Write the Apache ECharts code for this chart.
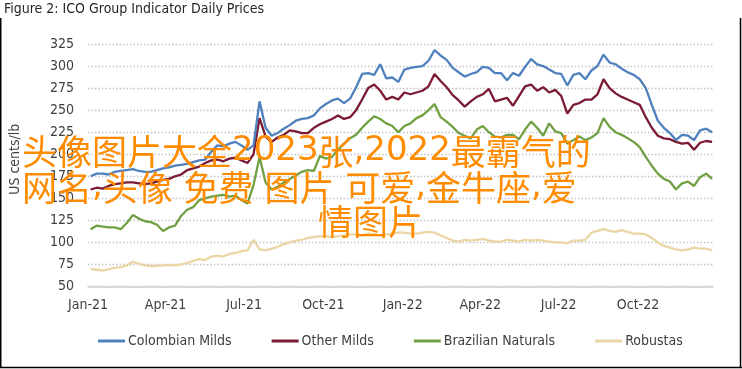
<!DOCTYPE html>
<html>
<head>
<meta charset="utf-8">
<script src="https://cdn.jsdelivr.net/npm/echarts@6/dist/echarts.min.js"></script>
<style>
html,body{margin:0;padding:0;background:#fff;}
#chart{width:742px;height:369px;}
</style>
</head>
<body>
<div id="chart"></div>
<script>
// ---- data (weekly readings, Mondays from 2021-01-04) ----
const firstWeek = '2021-01-04';
const colombianMilds = [
175,178,178,177,180,181,182,183,181,180,180,182,184,185,187,188,189,191,193,194,203,210,209,212,214,210,205,
210,260,230,221,224,229,233,238,240,241,244,252,257,261,263,258,263,276,291,292,290,302,286,287,282,
296,298,299,300,306,318,312,307,298,293,288,291,293,299,298,292,292,284,292,289,299,308,302,300,296,292,
291,278,290,292,285,295,300,313,304,302,297,293,290,285,275,256,238,230,224,216,222,221,216,227,229,225];
const otherMilds = [
160,162,161,164,166,167,168,168,167,166,167,169,171,172,175,177,182,184,186,190,193,194,192,195,196,193,190,
200,241,220,214,219,222,227,226,224,224,230,234,237,240,244,240,242,250,262,275,279,272,262,265,262,
270,268,270,272,277,291,283,276,267,261,254,260,265,268,274,260,262,264,255,266,277,279,272,276,270,273,266,
246,256,258,262,262,268,285,275,269,265,262,259,256,242,230,221,218,217,214,212,213,205,213,215,214];
const brazilianNaturals = [
115,119,118,117,117,115,122,131,127,124,123,120,113,117,119,130,137,140,148,150,152,153,154,152,153,148,144,
165,197,168,160,163,168,172,176,180,182,181,198,195,197,205,212,218,222,230,237,243,240,235,232,225,
232,235,241,244,250,257,242,237,231,224,221,218,228,232,225,220,219,222,222,217,228,237,230,221,235,226,224,
212,216,220,216,219,224,241,231,225,222,218,214,208,197,187,178,172,169,160,167,169,164,174,178,172];
const robustas = [
70,69,68,69.5,71,72,74,78,76,74,73,73.5,74,74.5,74,75,76.5,79,81,80,84,85,84,87,88,90,91,
103,92,91,93,95,98,100,102,103,105,106,107,107,106,107,108,109,109,108,110,109,108,109,110,111,
111,110,110,111,112,111,108,105,102,101,103,102,103,104,102,101,101,103,102,101,103,102,103,102,101,100,100,
99,102,102,103,111,113,115,113,112,114,112,110,110,109,105,100,96,94,92,91,92,94,93,93,91];
const seriesNames = ['Colombian Milds','Other Milds','Brazilian Naturals','Robustas'];
const tickDates = ['2021-01-01','2021-04-01','2021-07-01','2021-10-01','2022-01-01','2022-04-01','2022-07-01','2022-10-01'];
const tickLabels = ['Jan-21','Apr-21','Jul-21','Oct-21','Jan-22','Apr-22','Jul-22','Oct-22'];
const xMin = '2021-01-01', xMax = '2022-12-27';
const yTicks = {min:50, max:325, step:25};
const titleText = 'Figure 2: ICO Group Indicator Daily Prices';
const yName = 'US cents/lb';
const overlayLines = ['头像图片大全2023张,2022最霸气的', '网名,头像 免费 图片 可爱,金牛座,爱', '情图片'];

// ---- helpers ----
function toTs(s){ const p=s.split('-').map(Number); return Date.UTC(p[0],p[1]-1,p[2]); }
const DAY = 86400000;
const startTs = toTs(firstWeek);
const dates = colombianMilds.map((_,i)=> startTs + 7*i*DAY);
const pairs = arr => arr.map((v,i)=>[dates[i], v]);
const tickTs = tickDates.map(toTs);
// wrap ASCII runs for a wider latin face
const richify = s => s.replace(/([\x20-\x7e]+)/g, '{d|$1}');

const FONT = "'Liberation Sans Narrow','DejaVu Sans Condensed','Roboto',sans-serif";
const CJK = "'Noto Sans CJK SC'";
const colors = ['#4f81bd','#7a1a33','#71a043','#ead6a5'];
const dataSets = [colombianMilds, otherMilds, brazilianNaturals, robustas];

const overlayStyle = t => ({
  text: richify(t), fontFamily: CJK, fontSize: 35, fill:'#ff8c00',
  rich:{ d:{fontFamily:"'DejaVu Sans'", fontSize:34, fill:'#ff8c00'} }
});

const chart = echarts.init(document.getElementById('chart'), null, {renderer:'canvas'});
chart.setOption({
  animation:false,
  color: colors,
  textStyle:{fontFamily:FONT},
  grid:{left:82, right:29, top:44, bottom:82.5, containLabel:false},
  legend:{
    data: seriesNames,
    top: 329, left: 93,
    icon: 'rect',
    itemWidth: 27, itemHeight: 3, itemGap: 40,
    textStyle:{fontFamily:FONT, fontSize:14, color:'#404040', padding:[0,0,0,-2]}
  },
  xAxis:{
    type:'value', min:toTs(xMin), max:toTs(xMax),
    axisLine:{show:true, lineStyle:{color:'#d0d0d0', width:1.5}},
    axisTick:{show:false},
    splitLine:{show:false},
    axisLabel:{
      customValues: tickTs,
      margin:12, fontSize:14, color:'#404040', fontFamily:FONT,
      formatter: function(v){ const k = tickTs.indexOf(+v); return k>=0 ? tickLabels[k] : ''; }
    }
  },
  yAxis:{
    type:'value', min:yTicks.min, max:yTicks.max, interval:yTicks.step,
    name: yName, nameLocation:'middle', nameGap:66, nameRotate:90,
    nameTextStyle:{fontFamily:FONT, fontSize:14, color:'#404040', padding:[0,0,0,12]},
    axisLine:{show:false}, axisTick:{show:false},
    axisLabel:{margin:14, fontSize:14, color:'#404040', fontFamily:FONT},
    splitLine:{show:true, lineStyle:{color:'#c4c4c4', width:1.3, type:[1.5,2]}}
  },
  series: dataSets.map((d,k)=>({
    name: seriesNames[k], type:'line', data: pairs(d),
    showSymbol:false, symbol:'rect', symbolSize:2, smooth:false,
    lineStyle:{width:2.3, color:colors[k]}, itemStyle:{color:colors[k], borderWidth:0},
    z: 2 + (3-k)
  })),
  graphic:[
    {type:'text', left:4, top:2, z:100, style:{text:titleText, font:"14px "+FONT, fill:'#262626'}},
    {type:'line', z:100, shape:{x1:0.75,y1:18,x2:0.75,y2:368}, style:{stroke:'#000', lineWidth:1.5}},
    {type:'line', z:100, shape:{x1:740.5,y1:18,x2:740.5,y2:368}, style:{stroke:'#000', lineWidth:1.5}},
    {type:'line', z:100, shape:{x1:0,y1:367.5,x2:742,y2:367.5}, style:{stroke:'#000', lineWidth:1.5}},
    {type:'text', left:22, top:134, z:200, style:overlayStyle(overlayLines[0])},
    {type:'text', left:22, top:170, z:200, style:overlayStyle(overlayLines[1])},
    {type:'text', left:318, top:204, z:200, style:overlayStyle(overlayLines[2])}
  ]
});
</script>
</body>
</html>
